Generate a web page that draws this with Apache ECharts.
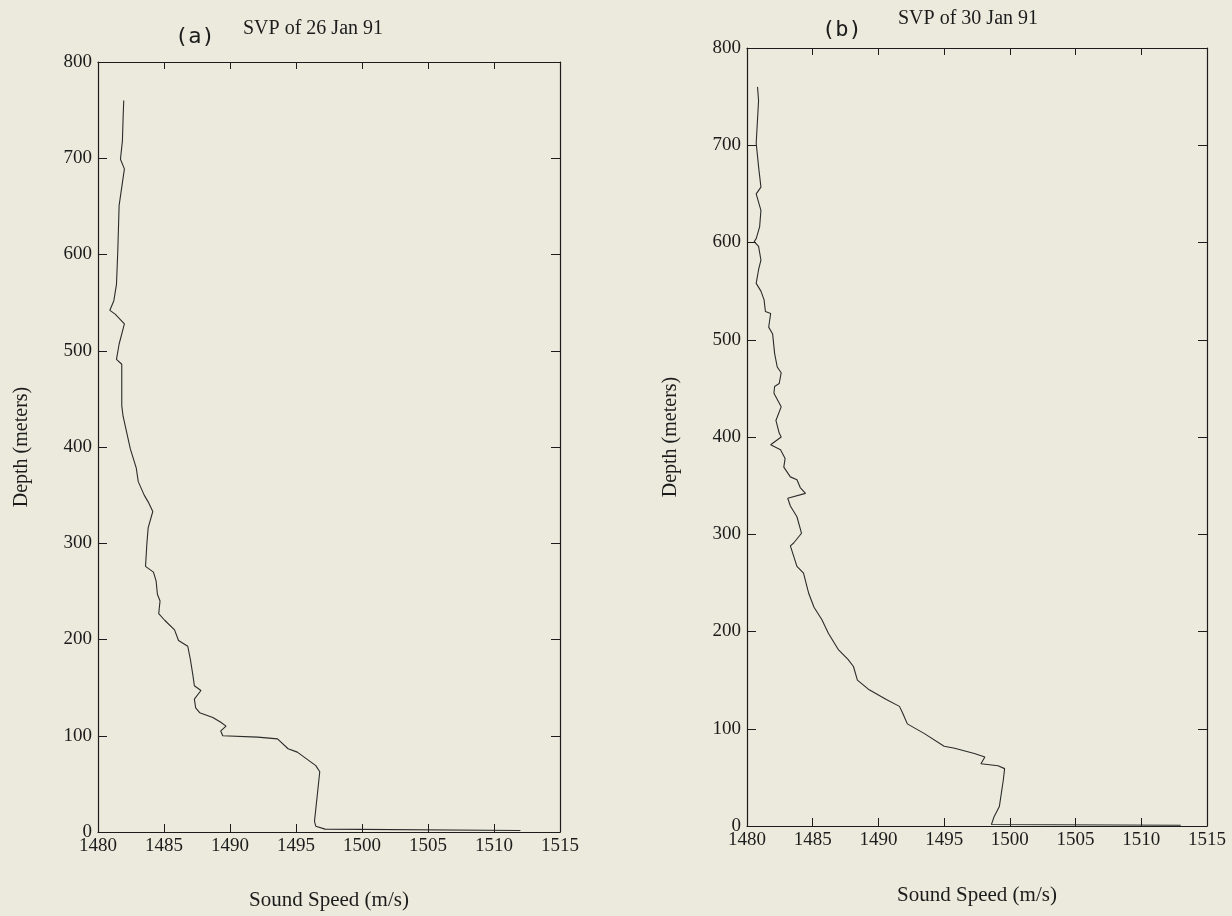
<!DOCTYPE html>
<html>
<head>
<meta charset="utf-8">
<style>
  html, body { margin: 0; padding: 0; background: #ebeadc; }
  #chart { width: 1232px; height: 916px; }
</style>
<script src="https://cdn.jsdelivr.net/npm/echarts/dist/echarts.min.js"></script>
</head>
<body>
<div id="chart"></div>
<script>
// ---- Data ----
const xTicksMin = 1480, xTicksMax = 1515, xTickStep = 5;
const yTicksMin = 0, yTicksMax = 800, yTickStep = 100;

// Panel (a): SVP of 26 Jan 91
const depthA = [760, 741, 718, 699, 689, 670, 651, 604, 569, 552, 542, 538, 528, 507, 491, 486, 443, 432, 398, 378, 364, 350, 343, 333, 316, 299, 276, 270, 261, 247, 240, 227, 220, 210, 199, 193, 179, 162, 152, 147, 138, 129, 124, 119, 114, 110, 105, 100, 98.6, 96.8, 86.5, 83, 76, 69, 62.6, 11, 6, 3, 1.5];
const speedA = [1481.95, 1481.9, 1481.85, 1481.7, 1482.0, 1481.8, 1481.6, 1481.5, 1481.4, 1481.2, 1480.9, 1481.3, 1482.0, 1481.6, 1481.4, 1481.8, 1481.8, 1481.9, 1482.45, 1482.9, 1483.05, 1483.5, 1483.8, 1484.15, 1483.8, 1483.7, 1483.6, 1484.2, 1484.4, 1484.5, 1484.7, 1484.6, 1485.05, 1485.8, 1486.1, 1486.8, 1487.0, 1487.2, 1487.3, 1487.8, 1487.3, 1487.4, 1487.7, 1488.7, 1489.3, 1489.7, 1489.3, 1489.45, 1492.1, 1493.6, 1494.4, 1495.1, 1495.8, 1496.5, 1496.8, 1496.4, 1496.5, 1497.2, 1512];

// Panel (b): SVP of 30 Jan 91
const depthB = [760, 746, 702, 678, 657, 650, 633, 616, 604, 601, 596, 582, 572, 558, 550, 541, 529, 527, 513, 506, 486, 472, 466, 455, 452, 445, 431, 417, 404, 400, 392, 387, 378, 369, 359, 356, 348, 342, 337, 329, 318, 301, 291, 288, 267, 260, 239, 225, 212, 198, 181, 171, 164, 150, 140, 130, 123, 116, 105, 95, 82, 80, 74.5, 71, 64, 62, 59, 47, 20, 9.6, 1.5, 0.8];
const speedB = [1480.8, 1480.88, 1480.7, 1480.88, 1481.06, 1480.7, 1481.06, 1480.96, 1480.7, 1480.55, 1480.88, 1481.06, 1480.88, 1480.7, 1481.06, 1481.3, 1481.4, 1481.8, 1481.65, 1481.95, 1482.1, 1482.3, 1482.6, 1482.45, 1482.1, 1482.05, 1482.6, 1482.2, 1482.45, 1482.6, 1481.8, 1482.55, 1482.9, 1482.8, 1483.3, 1483.8, 1484.05, 1484.45, 1483.1, 1483.3, 1483.8, 1484.15, 1483.55, 1483.3, 1483.8, 1484.3, 1484.7, 1485.1, 1485.7, 1486.2, 1486.97, 1487.7, 1488.1, 1488.4, 1489.3, 1490.6, 1491.6, 1491.85, 1492.2, 1493.5, 1495.0, 1495.8, 1497.3, 1498.1, 1497.8, 1499.1, 1499.6, 1499.5, 1499.2, 1498.8, 1498.6, 1513];

const titlesTag = ['(a)', '(b)'];
const titlesText = ['SVP of 26 Jan 91', 'SVP of 30 Jan 91'];
const xAxisName = 'Sound Speed (m/s)';
const yAxisName = 'Depth (meters)';

// ---- Styling ----
const ink = '#1c1c1c';
const serif = 'Liberation Serif';

function pairs(xs, ys) { return xs.map((x, i) => [x, ys[i]]); }
function plain(v) { return String(v); }

function xAxisBottom(gi, nameGap) {
  return {
    gridIndex: gi, type: 'value', position: 'bottom',
    min: xTicksMin, max: xTicksMax, interval: xTickStep,
    axisLine: { show: true, onZero: false, lineStyle: { color: ink, width: 1.2 } },
    axisTick: { show: true, inside: true, length: 8, lineStyle: { color: ink, width: 1 } },
    axisLabel: { color: ink, fontFamily: serif, fontSize: 19, margin: 5, formatter: plain },
    splitLine: { show: false },
    name: xAxisName, nameLocation: 'middle', nameGap: nameGap,
    nameTextStyle: { color: ink, fontFamily: serif, fontSize: 21 }
  };
}
function xAxisTop(gi) {
  return {
    gridIndex: gi, type: 'value', position: 'top',
    min: xTicksMin, max: xTicksMax, interval: xTickStep,
    axisLine: { show: true, onZero: false, lineStyle: { color: ink, width: 1.2 } },
    axisTick: { show: true, inside: true, length: 7, lineStyle: { color: ink, width: 1 } },
    axisLabel: { show: false }, splitLine: { show: false }
  };
}
function yAxisLeft(gi) {
  return {
    gridIndex: gi, type: 'value', position: 'left',
    min: yTicksMin, max: yTicksMax, interval: yTickStep,
    axisLine: { show: true, onZero: false, lineStyle: { color: ink, width: 1.2 } },
    axisTick: { show: true, inside: true, length: 9, lineStyle: { color: ink, width: 1 } },
    axisLabel: { color: ink, fontFamily: serif, fontSize: 19, margin: 6, formatter: plain },
    splitLine: { show: false },
    name: yAxisName, nameLocation: 'middle', nameGap: 66,
    nameTextStyle: { color: ink, fontFamily: serif, fontSize: 20 }
  };
}
function yAxisRight(gi) {
  return {
    gridIndex: gi, type: 'value', position: 'right',
    min: yTicksMin, max: yTicksMax, interval: yTickStep,
    axisLine: { show: true, onZero: false, lineStyle: { color: ink, width: 1.2 } },
    axisTick: { show: true, inside: true, length: 9, lineStyle: { color: ink, width: 1 } },
    axisLabel: { show: false }, splitLine: { show: false }
  };
}
function lineSeries(gi, data) {
  return {
    type: 'line', xAxisIndex: gi, yAxisIndex: gi, data: data,
    showSymbol: false, symbol: 'none', smooth: false, clip: true,
    lineStyle: { color: '#2b2b2b', width: 1.1 }, silent: true, animation: false
  };
}

const chart = echarts.init(document.getElementById('chart'), null, { renderer: 'canvas' });
chart.setOption({
  backgroundColor: '#ebeadc',
  animation: false,
  title: [
    { text: titlesTag[0], left: 175, top: 26, padding: 0,
      textStyle: { fontFamily: 'DejaVu Sans Mono', fontSize: 22, fontWeight: 'normal', color: ink } },
    { text: titlesText[0], left: 243, top: 19, padding: 0,
      textStyle: { fontFamily: serif, fontSize: 20, fontWeight: 'normal', color: ink } },
    { text: titlesTag[1], left: 822, top: 19, padding: 0,
      textStyle: { fontFamily: 'DejaVu Sans Mono', fontSize: 22, fontWeight: 'normal', color: ink } },
    { text: titlesText[1], left: 898, top: 9, padding: 0,
      textStyle: { fontFamily: serif, fontSize: 20, fontWeight: 'normal', color: ink } }
  ],
  grid: [
    { left: 98, top: 62, width: 462, height: 779, show: false },
    { left: 747, top: 48, width: 460, height: 778, show: false }
  ],
  xAxis: [xAxisBottom(0, 58), xAxisBottom(1, 59), xAxisTop(0), xAxisTop(1)],
  yAxis: [yAxisLeft(0), yAxisLeft(1), yAxisRight(0), yAxisRight(1)],
  series: [
    lineSeries(0, pairs(speedA, depthA)),
    lineSeries(1, pairs(speedB, depthB))
  ]
});
</script>
</body>
</html>
